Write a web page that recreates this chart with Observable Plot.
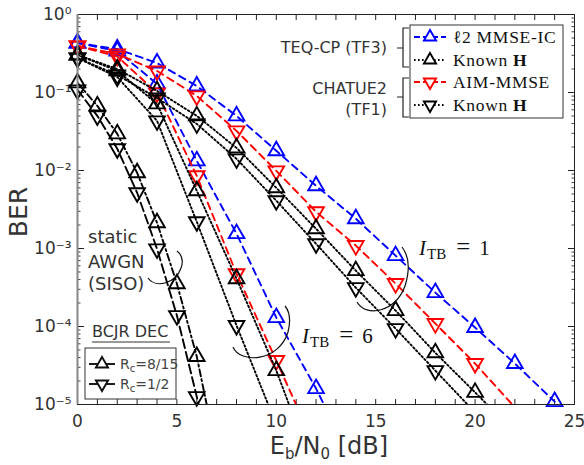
<!DOCTYPE html>
<html><head><meta charset="utf-8">
<script src="https://cdn.jsdelivr.net/npm/d3@7"></script>
<script src="https://cdn.jsdelivr.net/npm/@observablehq/plot@0.6"></script>
<style>html,body{margin:0;padding:0;background:#fff}svg{display:block}</style>
</head><body><div id="chart"></div>
<script>
// ---------- data ----------
const ebn0 = [0, 2, 4, 6, 8, 10, 12, 14, 16, 18, 20, 22, 24];
const ebn0Awgn = [0, 1, 2, 3, 4, 5, 6, 7];

// I_TB = 1
const tf3MmseIcItb1 = [0.431, 0.361, 0.239, 0.121, 0.0501, 0.0179, 0.00637, 0.00241, 8.1e-4, 2.72e-4, 9.7e-5, 3.35e-5, 1.09e-5];
const tf3KnownItb1  = [0.303, 0.2, 0.105, 0.0501, 0.0195, 0.006, 0.00179, 5.2e-4, 1.6e-4, 4.6e-5, 1.43e-5, 4.4e-6];
const tf1AimItb1    = [0.395, 0.312, 0.189, 0.0904, 0.0322, 0.0099, 0.00296, 0.00109, 3.55e-4, 1.09e-4, 3.35e-5, 9.2e-6];
const tf1KnownItb1  = [0.277, 0.168, 0.085, 0.0396, 0.0141, 0.0041, 0.00115, 3.15e-4, 9.4e-5, 2.72e-5, 7.9e-6];
// I_TB = 6
const tf3MmseIcItb6 = [0.431, 0.34, 0.129, 0.0133, 0.00155, 1.3e-4, 1.6e-5, 1.5e-6];
const tf3KnownItb6  = [0.303, 0.19, 0.0714, 0.0055, 4.1e-4, 2.72e-5, 1.2e-6];
const tf1AimItb6    = [0.395, 0.29, 0.0989, 0.00855, 4.75e-4, 3.66e-5, 2.7e-6];
const tf1KnownItb6  = [0.277, 0.158, 0.0433, 0.0022, 1.03e-4, 5.5e-6];
// static AWGN (SISO), BCJR decoder
const awgnRate815 = [0.133, 0.0673, 0.0295, 0.00935, 0.00214, 3.54e-4, 4.12e-5, 2.4e-6];
const awgnRate12  = [0.108, 0.0501, 0.019, 0.00518, 9.9e-4, 1.38e-4, 1.26e-5, 1.0e-6];

const xTicksMajor = [0, 5, 10, 15, 20, 25];
const yDecades = [1, 1e-1, 1e-2, 1e-3, 1e-4, 1e-5];
const yTickLabels = ["10\u2070", "10\u207B\u00B9", "10\u207B\u00B2", "10\u207B\u00B3", "10\u207B\u2074", "10\u207B\u2075"];

// ---------- styles ----------
const sans = "'DejaVu Sans', sans-serif";
const serif = "'Liberation Serif', 'DejaVu Serif', serif";
const BLUE = "#0000ff", RED = "#ff0000", BLACK = "#000000";
const DASH = "7,5", DOT = "1.6,2.4", DASHDOT = "7,3,2,3", LONGDASH = "9,4";
const R = 5.8;
const LW = 1.9;

const seriesDefs = [
  {xs: ebn0, ys: tf3MmseIcItb1, stroke: BLUE, dash: DASH, down: false},
  {xs: ebn0, ys: tf3MmseIcItb6, stroke: BLUE, dash: DASH, down: false},
  {xs: ebn0, ys: tf1AimItb1, stroke: RED, dash: DASH, down: true},
  {xs: ebn0, ys: tf1AimItb6, stroke: RED, dash: DASH, down: true},
  {xs: ebn0, ys: tf3KnownItb1, stroke: BLACK, dash: DOT, down: false},
  {xs: ebn0, ys: tf3KnownItb6, stroke: BLACK, dash: DOT, down: false},
  {xs: ebn0, ys: tf1KnownItb1, stroke: BLACK, dash: DOT, down: true},
  {xs: ebn0, ys: tf1KnownItb6, stroke: BLACK, dash: DOT, down: true},
  {xs: ebn0Awgn, ys: awgnRate815, stroke: BLACK, dash: DASHDOT, down: false},
  {xs: ebn0Awgn, ys: awgnRate12, stroke: BLACK, dash: LONGDASH, down: true}
];

const yMinor = [];
for (let e = -5; e < 0; e++) for (let m = 2; m <= 9; m++) yMinor.push(m * Math.pow(10, e));
const xMinor = d3.range(0, 26, 1);

const marks = [];
for (const anchor of ["bottom", "top"]) {
  marks.push(Plot.axisX(xMinor, {anchor, tickSize: -5, tickFormat: () => "", stroke: "#222", label: null}));
}
for (const anchor of ["left", "right"]) {
  marks.push(Plot.axisY(yMinor, {anchor, tickSize: -3.5, tickFormat: () => "", stroke: "#444", label: null}));
  marks.push(Plot.axisY(yDecades, {anchor, tickSize: -7, tickFormat: () => "", stroke: "#222", label: null}));
}
marks.push(Plot.axisX(xTicksMajor, {anchor: "bottom", tickSize: 0, tickPadding: 10, fontSize: 17, fill: "#333", label: null}));
marks.push(Plot.axisY(yDecades, {anchor: "left", tickSize: 0, tickPadding: 6, fontSize: 17, fill: "#333", label: null,
  tickFormat: d => yTickLabels[yDecades.indexOf(d)]}));

for (const s of seriesDefs) {
  const rows = s.ys.map((v, i) => ({x: s.xs[i], y: v}));
  marks.push(Plot.line(rows, {x: "x", y: "y", stroke: s.stroke, strokeWidth: LW, strokeDasharray: s.dash, clip: true}));
  marks.push(Plot.dot(rows.filter(d => d.y >= 1e-5), {x: "x", y: "y", symbol: "triangle", r: R, stroke: s.stroke,
    strokeWidth: LW, fill: "none", rotate: s.down ? 180 : 0}));
}
marks.push(Plot.frame({stroke: "#222", strokeWidth: 1}));
marks.push(Plot.ruleX([0], {stroke: "#888", strokeWidth: 2}));

const plot = Plot.plot({
  width: 584, height: 465,
  marginTop: 14, marginRight: 10, marginBottom: 61, marginLeft: 77,
  style: {fontFamily: sans, background: "#fff", overflow: "visible"},
  x: {domain: [0, 25], label: null},
  y: {type: "log", domain: [1e-5, 1], label: null},
  marks
});
document.getElementById("chart").appendChild(plot);

// ---------- annotations, labels and legends ----------
const svg = d3.select(plot);
const g = svg.append("g").attr("text-anchor", "start");
function text(x, y, str, o = {}) {
  return g.append("text").attr("x", x).attr("y", y)
    .attr("font-family", o.family || sans).attr("font-size", o.size || 16)
    .attr("fill", o.fill || "#333").attr("text-anchor", o.anchor || "start").text(str);
}
// axis labels
g.append("text").attr("transform", "translate(27,212) rotate(-90)").attr("text-anchor", "middle")
  .attr("font-family", sans).attr("font-size", 25).attr("fill", "#333").text("BER");
const xl = g.append("text").attr("x", 329).attr("y", 454).attr("text-anchor", "middle")
  .attr("font-family", sans).attr("font-size", 24).attr("fill", "#333");
xl.append("tspan").text("E");
xl.append("tspan").attr("font-size", 15).attr("dy", 5).text("b");
xl.append("tspan").attr("dy", -5).text("/N");
xl.append("tspan").attr("font-size", 15).attr("dy", 5).text("0");
xl.append("tspan").attr("dy", -5).text(" [dB]");

// group labels + braces
text(387, 53, "TEQ-CP (TF3)", {anchor: "end", size: 16});
text(387, 94, "CHATUE2", {anchor: "end", size: 16});
text(387, 115, "(TF1)", {anchor: "end", size: 16});
function brace(y0, y1, ym) {
  g.append("path").attr("d", `M409,${y0}H403V${y1}H409M397,${ym}H403`)
    .attr("fill", "none").attr("stroke", "#222").attr("stroke-width", 1.2);
}
brace(28, 67, 48);
brace(78, 117, 97);

// right legend
const tri = d3.symbol(d3.symbolTriangle2, Math.PI * R * R)();
g.append("rect").attr("x", 410).attr("y", 25).attr("width", 153).attr("height", 93)
  .attr("fill", "#fff").attr("stroke", "#333").attr("stroke-width", 1);
const legendItems = [
  {y: 37, stroke: BLUE, dash: "6,3", down: false, parts: [["\u21132 MMSE-IC", "normal"]]},
  {y: 60, stroke: BLACK, dash: DOT, down: false, parts: [["Known ", "normal"], ["H", "bold"]]},
  {y: 82, stroke: RED, dash: "6,3", down: true, parts: [["AIM-MMSE", "normal"]]},
  {y: 105, stroke: BLACK, dash: DOT, down: true, parts: [["Known ", "normal"], ["H", "bold"]]}
];
for (const it of legendItems) {
  g.append("line").attr("x1", 414).attr("x2", 446).attr("y1", it.y).attr("y2", it.y)
    .attr("stroke", it.stroke).attr("stroke-width", LW).attr("stroke-dasharray", it.dash);
  g.append("path").attr("d", tri).attr("fill", "#fff").attr("stroke", it.stroke).attr("stroke-width", LW)
    .attr("transform", `translate(430,${it.y}) rotate(${it.down ? 180 : 0})`);
  const t = g.append("text").attr("x", 453).attr("y", it.y + 6).attr("font-family", serif)
    .attr("font-size", 17.5).attr("letter-spacing", 0.7).attr("fill", "#111").attr("text-anchor", "start");
  for (const [s, w] of it.parts) t.append("tspan").attr("font-weight", w).text(s);
}

// static AWGN annotation
text(88, 243, "static", {size: 18});
text(88, 268, "AWGN", {size: 18});
text(88, 290, "(SISO)", {size: 18});
const arc = d => g.append("path").attr("d", d).attr("fill", "none").attr("stroke", "#111").attr("stroke-width", 1.2);
arc("M148,278 C156,289 176,283 181,268 C184,260 182,255 177,251");
arc("M233,347 C240,364 279,362 288,332 C291,320 290,312 285,306");
arc("M357,302 C366,318 396,312 405,286 C410,270 409,256 402,247");

// I_TB labels
function itb(x, y, val) {
  const t = g.append("text").attr("x", x).attr("y", y).attr("font-family", serif).attr("fill", "#111")
    .attr("font-size", 21).attr("text-anchor", "start");
  t.append("tspan").attr("font-style", "italic").text("I");
  t.append("tspan").attr("dx", 1).attr("dy", 4).attr("font-size", 15).text("TB");
  t.append("tspan").attr("dx", 10).attr("dy", -4).attr("font-size", 25).text("=");
  t.append("tspan").attr("dx", 9).text(val);
}
itb(419, 255, "1");
itb(302, 343, "6");

// BCJR DEC legend
text(92, 337, "BCJR DEC", {size: 16});
g.append("line").attr("x1", 92).attr("x2", 170).attr("y1", 342).attr("y2", 342).attr("stroke", "#333").attr("stroke-width", 1);
g.append("rect").attr("x", 85).attr("y", 348).attr("width", 91).attr("height", 51)
  .attr("fill", "#fff").attr("stroke", "#333").attr("stroke-width", 1);
const bcjr = [{y: 364, down: false, rate: "=8/15"}, {y: 384, down: true, rate: "=1/2"}];
for (const it of bcjr) {
  g.append("line").attr("x1", 89).attr("x2", 115).attr("y1", it.y).attr("y2", it.y).attr("stroke", "#111").attr("stroke-width", LW);
  g.append("path").attr("d", tri).attr("fill", "#fff").attr("stroke", "#111").attr("stroke-width", LW)
    .attr("transform", `translate(102,${it.y}) rotate(${it.down ? 180 : 0})`);
  const t = g.append("text").attr("x", 120).attr("y", it.y + 5).attr("font-family", sans).attr("font-size", 14)
    .attr("fill", "#444").attr("text-anchor", "start");
  t.append("tspan").text("R");
  t.append("tspan").attr("font-size", 10).attr("dy", 3).text("c");
  t.append("tspan").attr("dy", -3).text(it.rate);
}
</script>
</body></html>
